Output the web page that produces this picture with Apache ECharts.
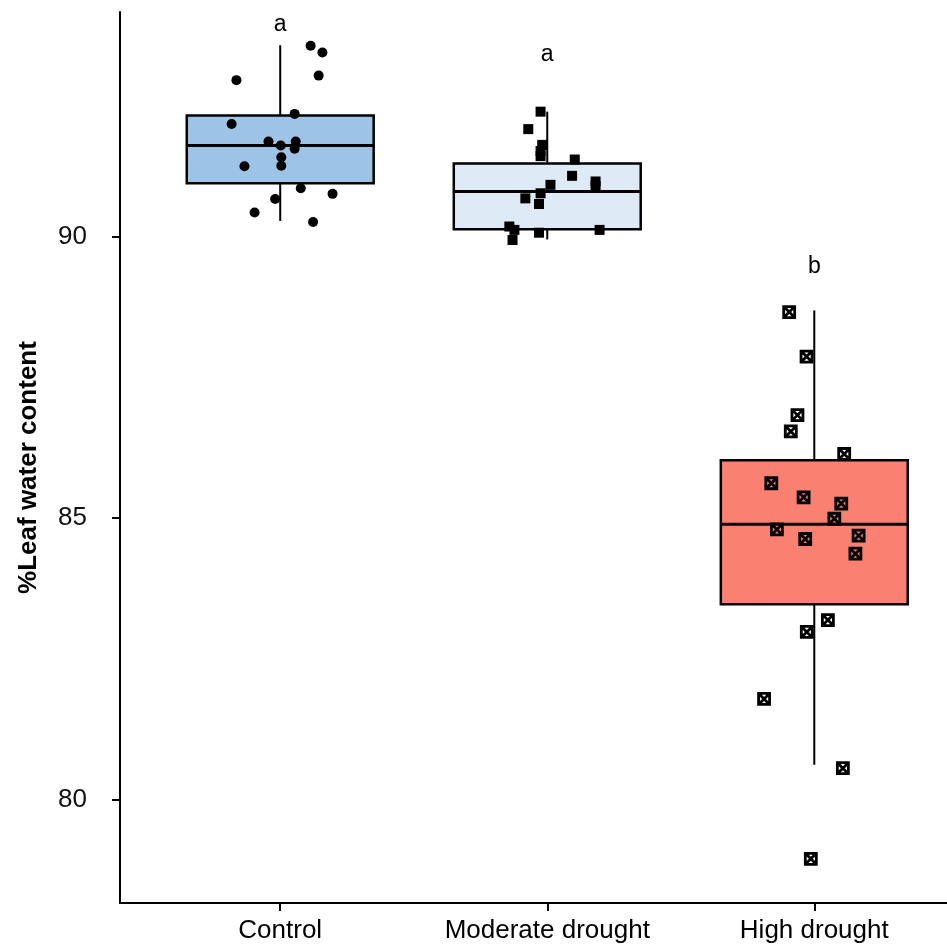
<!DOCTYPE html>
<html>
<head>
<meta charset="utf-8">
<script src="https://cdn.jsdelivr.net/npm/echarts@6/dist/echarts.min.js"></script>
<style>
  html, body { margin: 0; padding: 0; background: #fff; }
  #chart { width: 947px; height: 949px; }
</style>
</head>
<body>
<div id="chart"></div>
<script>
// groups
var categories = ['Control', 'Moderate drought', 'High drought'];
var boxColors = ['#9DC3E6', '#DEEBF7', '#FA8072'];
// box stats
var whiskerLow = [90.28, 89.95, 80.62];
var q1 = [90.95, 90.13, 83.47];
var median = [91.62, 90.80, 84.89];
var q3 = [92.15, 91.30, 86.03];
var whiskerHigh = [93.40, 92.22, 88.69];
// significance letters
var letters = ['a', 'a', 'b'];
var letterY = [93.76, 93.23, 89.46];

// jittered points [x, value]
var controlPts = [
  [0.836, 92.78], [1.114, 93.39], [1.158, 93.27], [1.144, 92.86], [1.054, 92.18],
  [0.818, 92.00], [0.956, 91.69], [1.002, 91.62], [1.058, 91.69], [1.054, 91.56],
  [1.004, 91.41], [1.004, 91.26], [0.866, 91.25], [1.077, 90.86], [1.196, 90.76],
  [0.981, 90.67], [0.904, 90.43], [1.123, 90.26]
];
var moderatePts = [
  [1.975, 92.22], [1.929, 91.91], [1.981, 91.63], [1.975, 91.52], [1.975, 91.43],
  [2.103, 91.37], [2.093, 91.08], [2.012, 90.92], [2.181, 90.98], [2.181, 90.90],
  [1.918, 90.68], [1.975, 90.77], [1.969, 90.58], [1.858, 90.18], [1.877, 90.12],
  [1.870, 89.94], [1.969, 90.07], [2.196, 90.12]
];
var highPts = [
  [2.906, 88.66], [2.971, 87.87], [2.937, 86.83], [2.912, 86.54], [3.112, 86.14],
  [2.839, 85.62], [2.960, 85.37], [3.101, 85.26], [3.075, 84.99], [2.860, 84.80],
  [2.966, 84.63], [3.166, 84.69], [3.154, 84.37], [3.051, 83.19], [2.972, 82.98],
  [2.812, 81.79], [3.107, 80.56], [2.987, 78.95]
];

var boxData = categories.map(function (c, i) {
  return [i + 1, whiskerLow[i], q1[i], median[i], q3[i], whiskerHigh[i]];
});

var chart = echarts.init(document.getElementById('chart'));
var halfW = 0.35;

var option = {
  animation: false,
  textStyle: { fontFamily: 'Liberation Sans, Arial, sans-serif' },
  grid: { left: 120, right: 0, top: 12, bottom: 46 },
  xAxis: {
    type: 'value',
    min: 0.4,
    max: 3.497,
    axisLine: { show: true, lineStyle: { color: '#000', width: 2 } },
    axisTick: { show: true, customValues: [1, 2, 3], length: 8, lineStyle: { color: '#000', width: 2 } },
    axisLabel: {
      customValues: [1, 2, 3],
      formatter: function (v) { return categories[Math.round(v) - 1]; },
      fontSize: 26, color: '#000', margin: 15
    },
    splitLine: { show: false }
  },
  yAxis: {
    type: 'value',
    min: 78.165,
    max: 93.99,
    name: '%Leaf water content',
    nameLocation: 'middle',
    nameGap: 78,
    nameTextStyle: { fontSize: 26, fontWeight: 'bold', color: '#000', padding: [0, 20, 0, 0] },
    axisLine: { show: true, lineStyle: { color: '#000', width: 2 } },
    axisTick: { show: true, customValues: [80, 85, 90], length: 8, lineStyle: { color: '#000', width: 2 } },
    axisLabel: { customValues: [80, 85, 90], fontSize: 26, color: '#111', margin: 33 },
    splitLine: { show: false }
  },
  series: [
    {
      type: 'custom',
      data: boxData,
      z: 1,
      renderItem: function (params, api) {
        var x = api.value(0);
        var i = params.dataIndex;
        var lo = api.coord([x, api.value(1)]);
        var b1 = api.coord([x - halfW, api.value(2)]);
        var b2 = api.coord([x + halfW, api.value(4)]);
        var med1 = api.coord([x - halfW, api.value(3)]);
        var med2 = api.coord([x + halfW, api.value(3)]);
        var hi = api.coord([x, api.value(5)]);
        var lineStyle = { stroke: '#000', lineWidth: 2 };
        return {
          type: 'group',
          children: [
            { type: 'line', shape: { x1: hi[0], y1: hi[1], x2: hi[0], y2: b2[1] }, style: lineStyle },
            { type: 'line', shape: { x1: lo[0], y1: b1[1], x2: lo[0], y2: lo[1] }, style: lineStyle },
            {
              type: 'rect',
              shape: { x: b1[0], y: b2[1], width: b2[0] - b1[0], height: b1[1] - b2[1] },
              style: { fill: boxColors[i], stroke: '#000', lineWidth: 2.5 }
            },
            { type: 'line', shape: { x1: med1[0], y1: med1[1], x2: med2[0], y2: med2[1] }, style: { stroke: '#000', lineWidth: 3 } }
          ]
        };
      }
    },
    {
      type: 'scatter',
      data: controlPts,
      symbol: 'circle',
      symbolSize: 10,
      z: 3,
      itemStyle: { color: '#000', opacity: 1 }
    },
    {
      type: 'scatter',
      data: moderatePts,
      symbol: 'rect',
      symbolSize: 10,
      z: 3,
      itemStyle: { color: '#000', opacity: 1 }
    },
    {
      type: 'scatter',
      data: highPts,
      symbol: 'path://M0,0 L10,0 L10,10 L0,10 Z M0,0 L10,10 M10,0 L0,10',
      symbolSize: 11,
      z: 3,
      itemStyle: { color: 'rgba(0,0,0,0)', borderColor: '#000', borderWidth: 2.8, opacity: 1 }
    },
    {
      type: 'scatter',
      data: letters.map(function (l, i) { return [i + 1, letterY[i], l]; }),
      symbolSize: 0,
      z: 4,
      itemStyle: { opacity: 1 },
      label: {
        show: true,
        position: 'inside',
        formatter: function (p) { return p.value[2]; },
        fontSize: 23,
        color: '#000'
      }
    }
  ]
};

chart.setOption(option);
</script>
</body>
</html>
